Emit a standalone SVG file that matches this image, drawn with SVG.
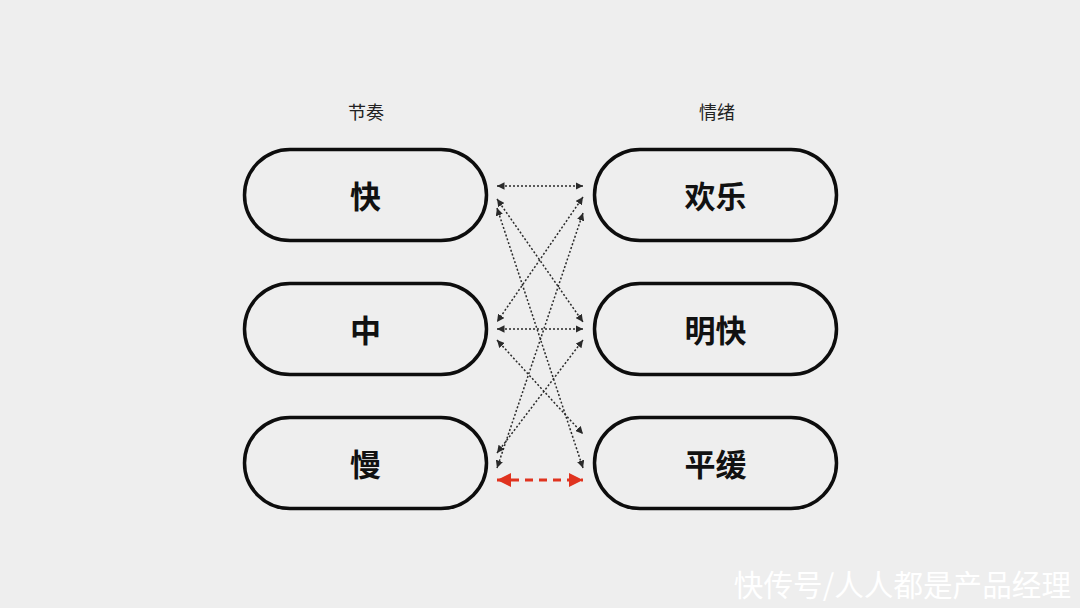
<svg xmlns="http://www.w3.org/2000/svg" width="1080" height="608" viewBox="0 0 1080 608">
<defs>
<style>
.pill{fill:none;stroke:#0d0d0d;stroke-width:3.5}
.nt{font-family:"Noto Sans CJK SC","Noto Sans",sans-serif;font-size:31px;font-weight:700;fill:#111;text-anchor:middle;dominant-baseline:central}
.hd{font-family:"Noto Sans CJK SC","Noto Sans",sans-serif;font-size:18px;fill:#222;text-anchor:middle;dominant-baseline:central}
.dl{stroke:#2a2a2a;stroke-width:1.5;stroke-dasharray:2 2;fill:none;marker-start:url(#ah);marker-end:url(#ah)}
.rl{stroke:#e0331f;stroke-width:3;stroke-dasharray:8 6;fill:none;marker-start:url(#rh);marker-end:url(#rh)}
.wm{font-family:"Noto Sans CJK SC","Noto Sans",sans-serif;font-size:29.6px;fill:#ffffff;text-anchor:end}
</style>
<marker id="ah" viewBox="0 0 10 10" markerUnits="userSpaceOnUse" markerWidth="7.5" markerHeight="7.5" refX="10" refY="5" orient="auto-start-reverse"><path d="M0,0 L10,5 L0,10 z" fill="#2a2a2a"/></marker>
<marker id="rh" viewBox="0 0 10 10" markerUnits="userSpaceOnUse" markerWidth="14" markerHeight="14" refX="10" refY="5" orient="auto-start-reverse"><path d="M0,0 L10,5 L0,10 z" fill="#e0331f"/></marker>
</defs>
<rect width="1080" height="608" fill="#eeeeee"/>
<text class="hd" x="366" y="111">节奏</text>
<text class="hd" x="717" y="111">情绪</text>
<g id="n-fast"><rect class="pill" x="244.5" y="149.5" width="242" height="91" rx="45.5"/><text class="nt" x="365.5" y="194">快</text></g>
<g id="n-mid"><rect class="pill" x="244.5" y="283.5" width="242" height="91" rx="45.5"/><text class="nt" x="365.5" y="328">中</text></g>
<g id="n-slow"><rect class="pill" x="244.5" y="417.5" width="242" height="91" rx="45.5"/><text class="nt" x="365.5" y="462">慢</text></g>
<g id="n-joy"><rect class="pill" x="594.5" y="149.5" width="242" height="91" rx="45.5"/><text class="nt" x="715.5" y="194">欢乐</text></g>
<g id="n-bright"><rect class="pill" x="594.5" y="283.5" width="242" height="91" rx="45.5"/><text class="nt" x="715.5" y="328">明快</text></g>
<g id="n-calm"><rect class="pill" x="594.5" y="417.5" width="242" height="91" rx="45.5"/><text class="nt" x="715.5" y="462">平缓</text></g>
<g id="connectors">
<line class="dl" x1="497" y1="186" x2="583" y2="186"/>
<line class="dl" x1="497" y1="199" x2="583" y2="322"/>
<line class="dl" x1="497" y1="208" x2="583" y2="468"/>
<line class="dl" x1="583" y1="197" x2="497" y2="322"/>
<line class="dl" x1="583" y1="213" x2="497" y2="468"/>
<line class="dl" x1="497" y1="329" x2="583" y2="329"/>
<line class="dl" x1="497" y1="340" x2="583" y2="434"/>
<line class="dl" x1="583" y1="340" x2="497" y2="453"/>
<line class="rl" x1="497" y1="480" x2="583" y2="480"/>
</g>
<text class="wm" x="1071" y="596">快传号/人人都是产品经理</text>
</svg>
